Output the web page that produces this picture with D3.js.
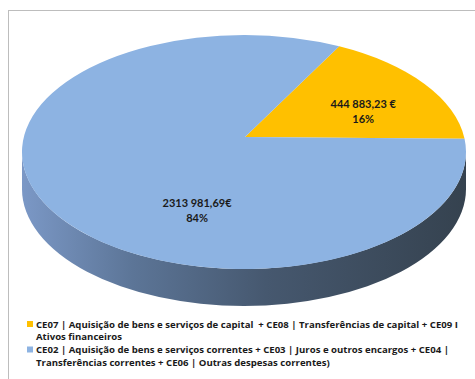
<!DOCTYPE html>
<html>
<head>
<meta charset="utf-8">
<script src="https://cdn.jsdelivr.net/npm/d3@7/dist/d3.min.js"></script>
<style>
  body { margin: 0; background: #fff; }
  svg { display: block; }
  text { font-family: Lato, "Open Sans", sans-serif; font-weight: bold; fill: #1a1a1a; white-space: pre; }
  .leg text { font-family: "Open Sans", sans-serif; }
</style>
</head>
<body>
<svg id="chart" width="475" height="379"></svg>
<script>
// data
var categories = ["CE07", "CE02"];
var values = [444883.23, 2313981.69];
var valueLabels = ["444 883,23 €", "2313 981,69€"];
var percentLabels = ["16%", "84%"];
var colors = ["#ffc000", "#8db3e2"];
var legendLines = [
    ["CE07 | Aquisição de bens e serviços de capital  + CE08 | Transferências de capital + CE09 I", "Ativos financeiros"],
    ["CE02 | Aquisição de bens e serviços correntes + CE03 | Juros e outros encargos + CE04 |", "Transferências correntes + CE06 | Outras despesas correntes)"]
];

var svg = d3.select('#chart');

// frame
svg.append('rect')
    .attr('x', 8.5).attr('y', 10.5)
    .attr('width', 520).attr('height', 420)
    .attr('fill', '#fff').attr('stroke', '#bdbdbd');

var cx = 244, cy = 152, rx = 222, ry = 117, depth = 37,
    apexX = 245, apexY = 137;

var pie = d3.pie().sort(null)
    .startAngle(25.4 * Math.PI / 180)
    .endAngle(25.4 * Math.PI / 180 + 2 * Math.PI);
var arcs = pie(values);

function pt(a) {
    return [cx + rx * Math.sin(a), cy - ry * Math.cos(a)];
}

var defs = svg.append('defs');
var grad = defs.append('linearGradient')
    .attr('id', 'side')
    .attr('gradientUnits', 'userSpaceOnUse')
    .attr('x1', cx - rx).attr('x2', cx + rx)
    .attr('y1', 0).attr('y2', 0);
[[0, '#7b98c6'], [0.25, '#5c7597'], [0.55, '#46586f'], [1, '#35424f']].forEach(function (s) {
    grad.append('stop').attr('offset', s[0]).attr('stop-color', s[1]);
});

// side wall (front half)
var side = 'M' + (cx - rx) + ',' + cy +
    ' A' + rx + ',' + ry + ' 0 0 0 ' + (cx + rx) + ',' + cy +
    ' L' + (cx + rx) + ',' + (cy + depth) +
    ' A' + rx + ',' + ry + ' 0 0 1 ' + (cx - rx) + ',' + (cy + depth) + ' Z';
svg.append('path').attr('d', side).attr('fill', 'url(#side)');

// top faces
svg.selectAll('path.slice').data(arcs).enter().append('path')
    .attr('class', 'slice')
    .attr('d', function (d) {
        var p0 = pt(d.startAngle), p1 = pt(d.endAngle),
            large = (d.endAngle - d.startAngle) > Math.PI ? 1 : 0;
        return 'M' + apexX + ',' + apexY +
            ' L' + p0[0] + ',' + p0[1] +
            ' A' + rx + ',' + ry + ' 0 ' + large + ' 1 ' + p1[0] + ',' + p1[1] + ' Z';
    })
    .attr('fill', function (d, i) { return colors[i]; });

// labels
var kx = [0.66, 0.26], ky = [0.6, 0.85];
var lbl = svg.selectAll('g.lbl').data(arcs).enter().append('g')
    .attr('class', 'lbl')
    .attr('transform', function (d, i) {
        var a = (d.startAngle + d.endAngle) / 2;
        var x = cx + kx[i] * rx * Math.sin(a),
            y = cy - ky[i] * ry * Math.cos(a);
        return 'translate(' + x + ',' + y + ')';
    });
lbl.append('text').attr('text-anchor', 'middle').attr('y', -3)
    .style('font-size', '11px')
    .text(function (d, i) { return valueLabels[i]; });
lbl.append('text').attr('text-anchor', 'middle').attr('y', 12)
    .style('font-size', '11px')
    .text(function (d, i) { return percentLabels[i]; });

// legend
var legend = svg.selectAll('g.leg').data(categories).enter().append('g')
    .attr('class', 'leg')
    .attr('transform', function (d, i) { return 'translate(27,' + (321 + i * 25.5) + ')'; });
legend.append('rect')
    .attr('width', 6).attr('height', 6)
    .attr('fill', function (d, i) { return colors[i]; });
legend.each(function (d, i) {
    var g = d3.select(this);
    legendLines[i].forEach(function (line, j) {
        g.append('text')
            .attr('x', 9)
            .attr('y', 6.5 + j * 12.5)
            .style('font-size', '9.6px')
            .text(line);
    });
});
</script>
</body>
</html>
